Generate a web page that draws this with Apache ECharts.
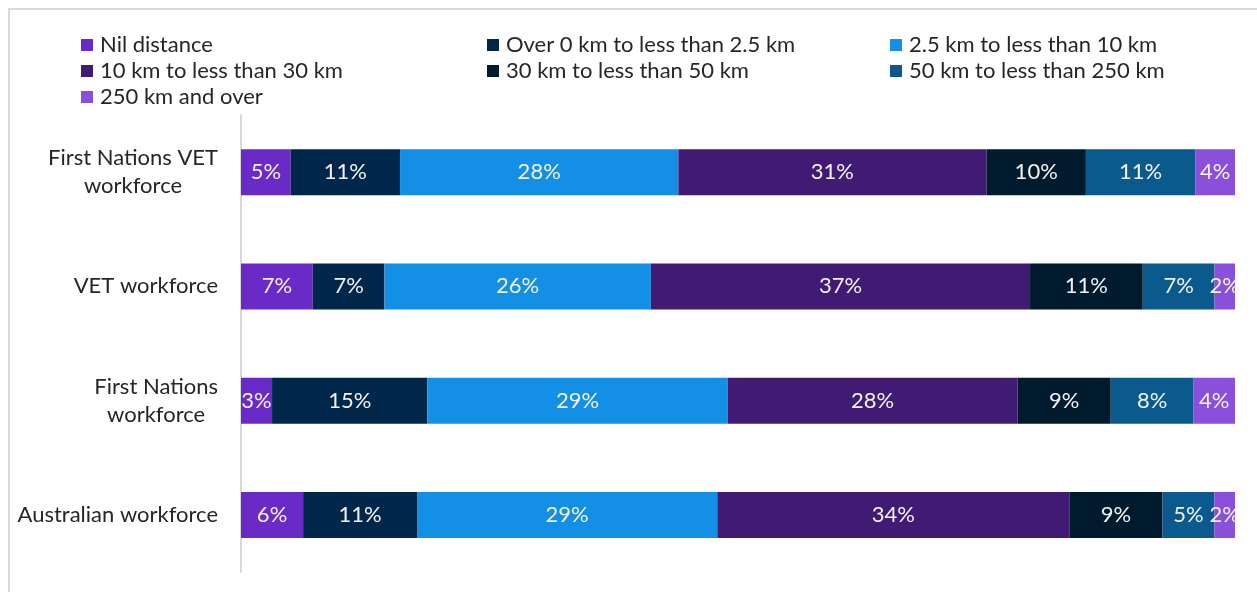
<!DOCTYPE html>
<html>
<head>
<meta charset="utf-8">
<script src="https://cdn.jsdelivr.net/npm/echarts@6/dist/echarts.min.js"></script>
<style>
  html, body { margin: 0; padding: 0; background: #fff; }
  #chart { width: 1257px; height: 592px; }
</style>
</head>
<body>
<div id="chart"></div>
<script>
// Workforce groups (top to bottom)
const categories = [
  'First Nations VET\nworkforce',
  'VET workforce',
  'First Nations\nworkforce',
  'Australian workforce'
];

// Distance bands (legend order)
const seriesNames = [
  'Nil distance',
  'Over 0 km to less than 2.5 km',
  '2.5 km to less than 10 km',
  '10 km to less than 30 km',
  '30 km to less than 50 km',
  '50 km to less than 250 km',
  '250 km and over'
];

// Share of each group, per distance band (%)
const nilDistance = [5, 7, 3, 6];
const over0To2_5  = [11, 7, 15, 11];
const from2_5To10 = [28, 26, 29, 29];
const from10To30  = [31, 37, 28, 34];
const from30To50  = [10, 11, 9, 9];
const from50To250 = [11, 7, 8, 5];
const over250     = [4, 2, 4, 2];

const bandValues = [nilDistance, over0To2_5, from2_5To10, from10To30, from30To50, from50To250, over250];
const colors = ['#6A2AC8', '#00274A', '#1390E6', '#401A73', '#001A2E', '#0B5A8E', '#8A4FDB'];

// 100% stacked: each row is scaled to its own total
const rowTotals = categories.map((_, i) => bandValues.reduce((s, arr) => s + arr[i], 0));

const FONT = 'Lato';
const FS = 22;

const series = seriesNames.map((name, k) => ({
  name: name,
  type: 'bar',
  stack: 'total',
  barWidth: 46,
  itemStyle: { color: colors[k] },
  label: {
    show: true,
    position: 'inside',
    color: '#f2f2f2',
    fontFamily: FONT,
    fontSize: FS,
    formatter: p => p.data.raw + '%'
  },
  emphasis: { disabled: true },
  data: bandValues[k].map((v, i) => ({ value: v / rowTotals[i] * 100, raw: v }))
}));

const legendText = { fontFamily: FONT, fontSize: FS, color: '#262626', lineHeight: 22, padding: [0, 0, 0, 2] };
const legendBase = {
  orient: 'vertical',
  top: 29,
  itemWidth: 12,
  itemHeight: 12,
  itemGap: 4,
  icon: 'rect',
  textStyle: legendText,
  selectedMode: false
};

const chart = echarts.init(document.getElementById('chart'), null, { renderer: 'canvas' });
chart.setOption({
  animation: false,
  color: colors,
  graphic: [{
    type: 'rect',
    shape: { x: 9, y: 9, width: 1400, height: 800 },
    style: { fill: 'none', stroke: '#d9d9d9', lineWidth: 2 },
    silent: true
  }],
  legend: [
    Object.assign({}, legendBase, { left: 76, data: [seriesNames[0], seriesNames[3], seriesNames[6]] }),
    Object.assign({}, legendBase, { left: 482, data: [seriesNames[1], seriesNames[4]] }),
    Object.assign({}, legendBase, { left: 885, data: [seriesNames[2], seriesNames[5]] })
  ],
  grid: { left: 241, right: 22, top: 115, bottom: 20, containLabel: false },
  xAxis: {
    type: 'value',
    min: 0,
    max: 100,
    show: false
  },
  yAxis: {
    type: 'category',
    inverse: true,
    data: categories,
    axisLine: { show: true, lineStyle: { color: '#d9d9d9', width: 2 } },
    axisTick: { show: false },
    axisLabel: {
      margin: 23,
      fontFamily: FONT,
      fontSize: FS,
      color: '#262626',
      lineHeight: 28,
      formatter: v => v.split('\n').map(s => '{c|' + s + '}').join('\n'),
      rich: { c: { align: 'center', fontFamily: FONT, fontSize: FS, color: '#262626', lineHeight: 28 } }
    }
  },
  series: series
});
</script>
</body>
</html>
